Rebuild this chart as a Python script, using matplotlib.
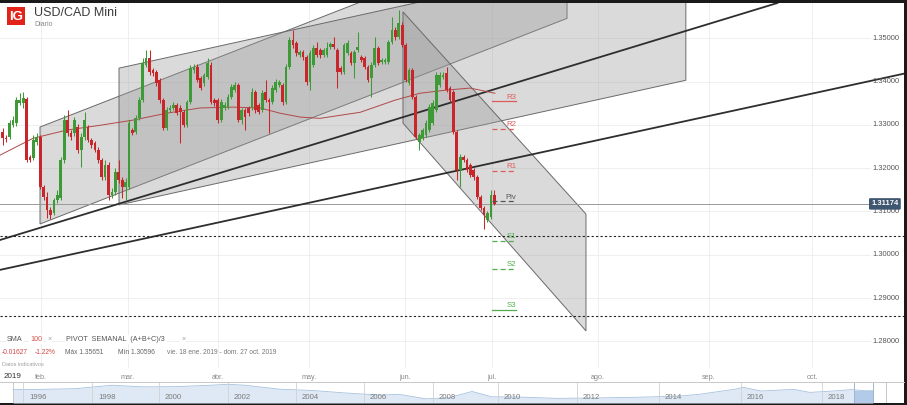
"""USD/CAD Mini daily chart with drawn channels, trend lines and weekly pivots."""
import numpy as np
import matplotlib
matplotlib.use("Agg")
import matplotlib.pyplot as plt
from matplotlib.patches import Polygon, Rectangle
from matplotlib.transforms import blended_transform_factory

plt.rcParams["font.family"] = ["Liberation Sans", "DejaVu Sans"]

W, H = 907, 405

# daily candles, 18 Jan 2019 -> 3 Jul 2019
open_ = [1.3283, 1.3269, 1.3272, 1.3299, 1.3304, 1.3350, 1.3350, 1.3359, 1.3226, 1.3223,
         1.3260, 1.3272, 1.3156, 1.3133, 1.3103, 1.3096, 1.3126, 1.3131, 1.3219, 1.3311,
         1.3281, 1.3281, 1.3295, 1.3242, 1.3272, 1.3295, 1.3265, 1.3258, 1.3242, 1.3219,
         1.3179, 1.3207, 1.3138, 1.3145, 1.3191, 1.3173, 1.3156, 1.3156, 1.3288, 1.3283,
         1.3315, 1.3357, 1.3438, 1.3454, 1.3426, 1.3422, 1.3403, 1.3357, 1.3292, 1.3334,
         1.3339, 1.3346, 1.3339, 1.3329, 1.3299, 1.3352, 1.3426, 1.3433, 1.3408, 1.3396,
         1.3410, 1.3438, 1.3357, 1.3357, 1.3311, 1.3339, 1.3341, 1.3364, 1.3380, 1.3392,
         1.3311, 1.3334, 1.3339, 1.3339, 1.3376, 1.3346, 1.3334, 1.3376, 1.3357, 1.3352,
         1.3380, 1.3392, 1.3392, 1.3352, 1.3433, 1.3496, 1.3489, 1.3461, 1.3468, 1.3457,
         1.3399, 1.3438, 1.3477, 1.3473, 1.3461, 1.3461, 1.3480, 1.3486, 1.3473, 1.3431,
         1.3422, 1.3466, 1.3466, 1.3443, 1.3473, 1.3457, 1.3454, 1.3433, 1.3408, 1.3438,
         1.3477, 1.3445, 1.3445, 1.3445, 1.3491, 1.3519, 1.3503, 1.3530, 1.3484, 1.3396,
         1.3426, 1.3364, 1.3260, 1.3269, 1.3276, 1.3288, 1.3304, 1.3334, 1.3392, 1.3410,
         1.3419, 1.3385, 1.3376, 1.3283, 1.3196, 1.3226, 1.3219, 1.3207, 1.3196, 1.3179,
         1.3133, 1.3108, 1.3080, 1.3087, 1.3138]
high = [1.3292, 1.3276, 1.3311, 1.3320, 1.3364, 1.3373, 1.3376, 1.3364, 1.3230, 1.3276,
        1.3281, 1.3276, 1.3161, 1.3145, 1.3110, 1.3131, 1.3150, 1.3226, 1.3322, 1.3334,
        1.3288, 1.3318, 1.3302, 1.3281, 1.3329, 1.3299, 1.3269, 1.3262, 1.3249, 1.3223,
        1.3219, 1.3214, 1.3154, 1.3200, 1.3219, 1.3179, 1.3177, 1.3311, 1.3292, 1.3322,
        1.3364, 1.3454, 1.3473, 1.3473, 1.3431, 1.3426, 1.3408, 1.3362, 1.3341, 1.3346,
        1.3352, 1.3350, 1.3346, 1.3334, 1.3357, 1.3438, 1.3440, 1.3440, 1.3412, 1.3419,
        1.3454, 1.3445, 1.3362, 1.3362, 1.3359, 1.3352, 1.3371, 1.3394, 1.3399, 1.3396,
        1.3339, 1.3339, 1.3343, 1.3385, 1.3380, 1.3350, 1.3380, 1.3403, 1.3362, 1.3392,
        1.3406, 1.3403, 1.3396, 1.3440, 1.3503, 1.3519, 1.3494, 1.3473, 1.3473, 1.3461,
        1.3473, 1.3484, 1.3491, 1.3477, 1.3477, 1.3491, 1.3491, 1.3503, 1.3477, 1.3436,
        1.3489, 1.3496, 1.3470, 1.3473, 1.3514, 1.3461, 1.3459, 1.3438, 1.3445, 1.3503,
        1.3482, 1.3454, 1.3454, 1.3496, 1.3549, 1.3526, 1.3565, 1.3537, 1.3489, 1.3431,
        1.3431, 1.3369, 1.3281, 1.3292, 1.3311, 1.3348, 1.3357, 1.3422, 1.3422, 1.3422,
        1.3433, 1.3389, 1.3380, 1.3288, 1.3233, 1.3230, 1.3223, 1.3212, 1.3200, 1.3184,
        1.3138, 1.3112, 1.3101, 1.3150, 1.3150]
low = [1.3253, 1.3260, 1.3267, 1.3295, 1.3297, 1.3346, 1.3339, 1.3214, 1.3214, 1.3219,
       1.3253, 1.3151, 1.3126, 1.3084, 1.3082, 1.3091, 1.3119, 1.3126, 1.3212, 1.3274,
       1.3265, 1.3274, 1.3235, 1.3202, 1.3265, 1.3260, 1.3246, 1.3237, 1.3212, 1.3173,
       1.3173, 1.3126, 1.3131, 1.3138, 1.3166, 1.3131, 1.3126, 1.3151, 1.3276, 1.3279,
       1.3311, 1.3352, 1.3433, 1.3415, 1.3412, 1.3389, 1.3350, 1.3288, 1.3288, 1.3329,
       1.3334, 1.3322, 1.3258, 1.3295, 1.3295, 1.3348, 1.3419, 1.3399, 1.3380, 1.3389,
       1.3406, 1.3348, 1.3343, 1.3304, 1.3306, 1.3334, 1.3336, 1.3359, 1.3375, 1.3306,
       1.3302, 1.3288, 1.3320, 1.3334, 1.3327, 1.3325, 1.3329, 1.3352, 1.3281, 1.3348,
       1.3375, 1.3387, 1.3346, 1.3348, 1.3429, 1.3477, 1.3459, 1.3457, 1.3450, 1.3392,
       1.3380, 1.3433, 1.3457, 1.3454, 1.3457, 1.3457, 1.3475, 1.3475, 1.3385, 1.3417,
       1.3417, 1.3461, 1.3438, 1.3408, 1.3468, 1.3445, 1.3429, 1.3399, 1.3364, 1.3433,
       1.3438, 1.3440, 1.3440, 1.3440, 1.3486, 1.3496, 1.3498, 1.3480, 1.3399, 1.3392,
       1.3359, 1.3267, 1.3242, 1.3265, 1.3272, 1.3283, 1.3299, 1.3329, 1.3387, 1.3406,
       1.3375, 1.3352, 1.3279, 1.3173, 1.3156, 1.3214, 1.3191, 1.3179, 1.3173, 1.3128,
       1.3103, 1.3060, 1.3075, 1.3082, 1.3114]
close = [1.3269, 1.3267, 1.3304, 1.3311, 1.3357, 1.3357, 1.3362, 1.3219, 1.3219, 1.3265,
         1.3272, 1.3156, 1.3133, 1.3103, 1.3091, 1.3126, 1.3138, 1.3219, 1.3311, 1.3281,
         1.3272, 1.3311, 1.3242, 1.3272, 1.3311, 1.3265, 1.3253, 1.3242, 1.3219, 1.3179,
         1.3207, 1.3138, 1.3145, 1.3191, 1.3173, 1.3156, 1.3168, 1.3304, 1.3281, 1.3315,
         1.3357, 1.3443, 1.3454, 1.3422, 1.3419, 1.3396, 1.3357, 1.3292, 1.3334, 1.3339,
         1.3346, 1.3327, 1.3329, 1.3299, 1.3352, 1.3431, 1.3433, 1.3403, 1.3385, 1.3415,
         1.3443, 1.3352, 1.3350, 1.3311, 1.3352, 1.3346, 1.3364, 1.3387, 1.3392, 1.3311,
         1.3334, 1.3318, 1.3327, 1.3376, 1.3334, 1.3329, 1.3373, 1.3357, 1.3352, 1.3385,
         1.3399, 1.3399, 1.3352, 1.3433, 1.3496, 1.3484, 1.3466, 1.3468, 1.3457, 1.3399,
         1.3466, 1.3477, 1.3461, 1.3461, 1.3473, 1.3477, 1.3486, 1.3480, 1.3422, 1.3422,
         1.3484, 1.3489, 1.3443, 1.3468, 1.3480, 1.3450, 1.3433, 1.3403, 1.3438, 1.3477,
         1.3443, 1.3450, 1.3450, 1.3491, 1.3519, 1.3503, 1.3535, 1.3484, 1.3403, 1.3426,
         1.3364, 1.3272, 1.3276, 1.3288, 1.3304, 1.3341, 1.3350, 1.3415, 1.3415, 1.3415,
         1.3380, 1.3357, 1.3283, 1.3196, 1.3226, 1.3219, 1.3196, 1.3184, 1.3179, 1.3133,
         1.3108, 1.3091, 1.3096, 1.3138, 1.3117]

# SMA 100 (bar index, value)
sma_idx = [-0.79, 8.9, 18.8, 28.5, 38.2, 48.1, 57.8, 67.5, 75.4, 81.2, 87.1, 92.9,
           104.7, 114.9, 122.2, 129.6, 136.9, 144.2]
sma_val = [1.3230, 1.3269, 1.3288, 1.3299, 1.3311, 1.3327, 1.3339, 1.3341, 1.3339, 1.3327,
           1.3318, 1.3315, 1.3329, 1.3357, 1.3373, 1.3380, 1.3385, 1.3373]

month_pos = [11.2, 36.7, 63.1, 89.7, 117.8, 143.3, 174.4, 206.9, 237.1]
month_labels = ["feb.", "mar.", "abr.", "may.", "jun.", "jul.", "ago.", "sep.", "oct."]
price_ticks = [1.28, 1.29, 1.30, 1.31, 1.32, 1.33, 1.34, 1.35]

last_price = 1.31174
support_lines = [1.3043, 1.2858]

pivot_names = ["R3", "R2", "R1", "Piv", "S1", "S2", "S3"]
pivot_levels = [1.3354, 1.3290, 1.3193, 1.3123, 1.3032, 1.2967, 1.2872]

# drawn objects: (bar index, price) anchors
channel_up_1 = [(10.93, 1.3295), (165.3, 1.3770), (165.3, 1.3546), (10.93, 1.3071)]
channel_up_2 = [(34.07, 1.3431), (200.1, 1.3719), (200.1, 1.3403), (34.07, 1.3115)]
channel_down = [(117.25, 1.3561), (170.85, 1.3094), (170.85, 1.2824), (117.25, 1.3304)]
trend_1 = [(-0.79, 1.3034), (204.25, 1.3527)]
trend_2 = [(-0.79, 1.2965), (204.25, 1.3316)]

# navigator: long-term history
nav_years = [1995.7, 1996.5, 1997.5, 1998.6, 1999.5, 2000.5, 2001.5, 2002.0, 2002.5, 2003.5,
             2004.5, 2005.5, 2006.5, 2007.0, 2007.8, 2008.5, 2009.2, 2009.8, 2010.5, 2011.5,
             2012.5, 2013.5, 2014.5, 2015.0, 2015.9, 2016.05, 2016.5, 2017.3, 2017.7, 2018.5,
             2018.95, 2019.5, 2019.8]
nav_vals = [1.37, 1.37, 1.40, 1.55, 1.48, 1.49, 1.55, 1.59, 1.55, 1.38,
            1.32, 1.21, 1.12, 1.16, 0.96, 1.01, 1.28, 1.05, 1.04, 0.98,
            1.00, 1.03, 1.08, 1.16, 1.39, 1.46, 1.30, 1.37, 1.24, 1.31,
            1.36, 1.31, 1.31]
nav_label_years = [1996, 1998, 2000, 2002, 2004, 2006, 2008, 2010, 2012, 2014, 2016, 2018]

# navigator time scale (year -> pixel), uneven like the original strip
NAV_ANCHOR_YEARS = [1995.7, 1996, 1998, 2000, 2002, 2004, 2006, 2008, 2010, 2012, 2014, 2016, 2018, 2019.05, 2019.8]
NAV_ANCHOR_PX = [13, 23, 92, 159, 228, 296, 364, 433, 498, 577, 659, 741, 822, 854, 873]

GREEN = "#3d9a36"
RED = "#c8262a"


def fx(x):
    return x / W


def fy(y):
    return 1 - y / H


def draw_candles(ax):
    idx = np.arange(len(close))
    o = np.array(open_)
    c = np.array(close)
    colors = np.where(c >= o, GREEN, RED)
    ax.vlines(idx, low, high, colors=colors, lw=0.75, zorder=5)
    bottom = np.minimum(o, c)
    height = np.maximum(np.abs(c - o), 0.00014)
    ax.bar(idx, height, width=0.8, bottom=bottom, color=colors, linewidth=0, zorder=6)


def draw_main(fig):
    ax = fig.add_axes([0, fy(368), 904 / W, 365 / H])
    ax.set_facecolor("white")
    ax.set_xlim(-0.79, 264.0)
    ax.set_ylim(1.27383, 1.35815)
    for s in ax.spines.values():
        s.set_visible(False)
    ax.set_yticks([])
    ax.set_xticks(month_pos, month_labels)
    ax.tick_params(axis="x", length=0, pad=4, labelsize=5.2, labelcolor="#8a8a8a")

    for m in month_pos:
        ax.axvline(m, color="#ececec", lw=0.6, zorder=0)
    for p in price_ticks:
        ax.axhline(p, xmax=0.962, color="#ececec", lw=0.6, zorder=0)
        ax.text(258.7, p, f"{p:.5f}", ha="center", va="center", fontsize=5.4,
                color="#555555", zorder=8)

    fill = (0.6, 0.6, 0.6, 0.36)
    for pts in (channel_up_1, channel_up_2, channel_down):
        ax.add_patch(Polygon(pts, closed=True, fc=fill, ec="#6a6a6a", lw=0.7, zorder=1))

    for a, b in (trend_1, trend_2):
        ax.axline(a, b, color="#2e2e2e", lw=1.3, zorder=3)

    for lvl in support_lines:
        ax.axhline(lvl, color="#222222", lw=0.8, ls=(0, (2, 2)), zorder=3)

    ax.axhline(last_price, xmax=0.962, color="#9a9a9a", lw=0.7, zorder=2)

    ax.plot(sma_idx, sma_val, color="#b04848", lw=0.7, zorder=4)
    draw_candles(ax)

    for name, lvl in zip(pivot_names, pivot_levels):
        if name.startswith("R"):
            col = "#de5b5b"
        elif name.startswith("S"):
            col = "#4fae4f"
        else:
            col = "#555555"
        ls = "-" if name in ("R3", "S3") else (0, (4, 2.5))
        ax.plot([143.3, 150.4], [lvl, lvl], color=col, lw=0.9, ls=ls, zorder=7)
        ax.text(148.9, lvl + 0.0002, name, ha="center", va="bottom", fontsize=5.6,
                color=col, zorder=7)

    ax.text(258.4, last_price, f"{last_price:.5f}", ha="center", va="center",
            fontsize=5.4, color="white", weight="bold", zorder=9,
            bbox=dict(boxstyle="round,pad=0.3,rounding_size=0.15", fc="#3f5670", ec="none"))
    return ax


def draw_navigator(fig):
    nav = fig.add_axes([0, fy(403), 904 / W, 21 / H])
    nav.set_xlim(0, 904)
    nav.set_ylim(0.78, 1.69)
    nav.set_xticks([])
    nav.set_yticks([])
    for k, s in nav.spines.items():
        s.set_visible(k == "top")
    nav.spines["top"].set_color("#c8c8c8")
    nav.spines["top"].set_linewidth(0.7)

    xs = np.interp(nav_years, NAV_ANCHOR_YEARS, NAV_ANCHOR_PX)
    nav.fill_between(xs, nav_vals, 0.78, color="#dfe9f5", lw=0)
    nav.plot(xs, nav_vals, color="#a6c1de", lw=0.6)

    sel = np.interp([2019.05, 2019.8], NAV_ANCHOR_YEARS, NAV_ANCHOR_PX)
    nav.add_patch(Rectangle((sel[0], 0.78), sel[1] - sel[0], 0.53, fc="#b3cbe8", ec="none"))
    for x in sel:
        nav.axvline(x, color="#9fb5cf", lw=0.7)
    nav.axvline(13, color="#c8c8c8", lw=0.7)
    nav.axvline(886, color="#c8c8c8", lw=0.7)

    tr = blended_transform_factory(nav.transData, nav.transAxes)
    for yr in nav_label_years:
        px = float(np.interp(yr, NAV_ANCHOR_YEARS, NAV_ANCHOR_PX))
        nav.axvline(px, color="#d0d0d0", lw=0.6)
        nav.text(px + 6, 0.28, str(yr), transform=tr, ha="left", va="center",
                 fontsize=5.6, color="#7a7a7a")


def draw_texts(fig):
    fig.patches.append(Rectangle((fx(7), fy(25)), 18 / W, 18 / H, transform=fig.transFigure,
                                 fc="#e2231a", ec="none", zorder=5))
    fig.text(fx(16), fy(16.5), "IG", ha="center", va="center", color="white",
             fontsize=9.5, weight="bold", zorder=6)
    fig.text(fx(34), fy(12.5), "USD/CAD Mini", ha="left", va="center", fontsize=9,
             color="#3a3a3a")
    fig.text(fx(34), fy(25), "Diario", ha="left", va="center", fontsize=5, color="#888888")

    white = dict(fc="white", ec="none", pad=0.6)
    row1 = [(7, "SMA", "#555555"), (30, "100", "#d9534f"), (47, "\u00d7", "#a0a0a0"),
            (66, "PIVOT  SEMANAL  (A+B+C)/3", "#555555"), (181, "\u00d7", "#a0a0a0")]
    for x, s, col in row1:
        fig.text(fx(x), fy(339.5), s, ha="left", va="center", fontsize=5.2, color=col, bbox=white)

    row2 = [(2, "-0.01627", "#d04444"), (35, "-1.22%", "#d04444"),
            (65, "M\u00e1x 1.35651", "#666666"), (118, "M\u00edn 1.30596", "#666666"),
            (167, "vie. 18 ene. 2019 - dom. 27 oct. 2019", "#777777")]
    for x, s, col in row2:
        fig.text(fx(x), fy(352.5), s, ha="left", va="center", fontsize=4.8, color=col)

    fig.text(fx(2), fy(364), "Datos indicativos", ha="left", va="center", fontsize=4,
             color="#a0a0a0")
    fig.text(fx(4), fy(376), "2019", ha="left", va="center", fontsize=5.8, color="#333333")


def main():
    fig = plt.figure(figsize=(W / 100, H / 100), dpi=100)
    fig.patch.set_facecolor("#1a1a1a")
    fig.patches.append(Rectangle((0, fy(403)), 904 / W, 400 / H, transform=fig.transFigure,
                                 fc="white", ec="none", zorder=-10))
    draw_main(fig)
    draw_navigator(fig)
    draw_texts(fig)
    fig.savefig("out.png", dpi=100, facecolor=fig.get_facecolor())
    plt.close(fig)


if __name__ == "__main__":
    main()
